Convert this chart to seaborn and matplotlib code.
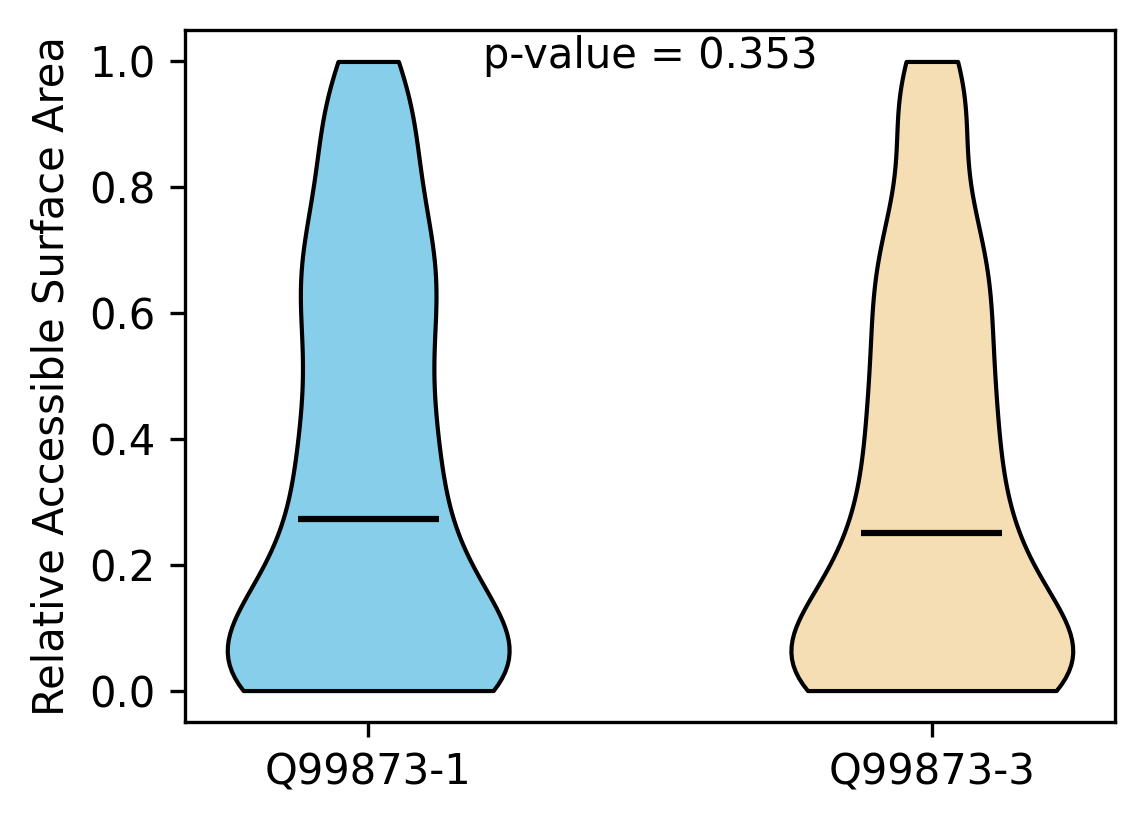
import numpy as np
import pandas as pd
import matplotlib
matplotlib.use("Agg")
import matplotlib.pyplot as plt
import seaborn as sns

categories = ["Q99873-1", "Q99873-3"]
colors = ["#87CEEB", "#F5DEB3"]
p_value_text = "p-value = 0.353"
y_label = "Relative Accessible Surface Area"
y_ticks = [0.0, 0.2, 0.4, 0.6, 0.8, 1.0]

rsa_iso1 = [
    0.0, 0.0, 0.0, 0.0, 0.0, 0.0, 0.0, 0.0, 0.0, 0.0,
    0.0, 0.0, 0.0, 0.0, 0.0, 0.0, 0.0, 0.0, 0.0, 0.0,
    0.015, 0.019, 0.023, 0.027, 0.031, 0.035,
    0.039, 0.042, 0.045, 0.048, 0.052, 0.055, 0.058, 0.061,
    0.066, 0.072, 0.078, 0.084,
    0.091, 0.097, 0.103, 0.109,
    0.116, 0.122, 0.128, 0.134,
    0.141, 0.147, 0.153, 0.159,
    0.167, 0.175, 0.183,
    0.191, 0.197, 0.203, 0.209,
    0.217, 0.225, 0.233,
    0.244, 0.256,
    0.266, 0.272, 0.278, 0.284,
    0.317, 0.325, 0.333,
    0.342, 0.350, 0.358,
    0.367, 0.375, 0.383,
    0.394, 0.406,
    0.416, 0.422, 0.428, 0.434,
    0.467, 0.475, 0.483,
    0.492, 0.500, 0.508,
    0.544, 0.556,
    0.567, 0.575, 0.583,
    0.594, 0.606,
    0.617, 0.625, 0.633,
    0.644, 0.656,
    0.666, 0.672, 0.678, 0.684,
    0.691, 0.697, 0.703, 0.709,
    0.744, 0.756,
    0.769, 0.781,
    0.794, 0.806,
    0.825,
    0.844, 0.856,
    0.875,
    0.894, 0.906,
    0.925,
    0.941, 0.947, 0.953, 0.959,
    0.975,
    1.0, 1.0,
]

rsa_iso3 = [
    0.0, 0.0, 0.0, 0.0, 0.0, 0.0, 0.0, 0.0, 0.0, 0.0,
    0.0, 0.0, 0.0, 0.0, 0.0, 0.0, 0.0, 0.0, 0.0, 0.0, 0.0,
    0.016, 0.022, 0.028, 0.034,
    0.039, 0.041, 0.044, 0.046, 0.049, 0.051, 0.054, 0.056, 0.059, 0.061,
    0.065, 0.070, 0.075, 0.080, 0.085,
    0.091, 0.097, 0.103, 0.109,
    0.116, 0.122, 0.128, 0.134,
    0.141, 0.147, 0.153, 0.159,
    0.167, 0.175, 0.183,
    0.190, 0.194, 0.198, 0.202, 0.206, 0.210,
    0.242, 0.250, 0.258,
    0.266, 0.272, 0.278, 0.284,
    0.292, 0.300, 0.308,
    0.317, 0.325, 0.333,
    0.367, 0.375, 0.383,
    0.392, 0.400, 0.408,
    0.417, 0.425, 0.433,
    0.444, 0.456,
    0.467, 0.475, 0.483,
    0.500,
    0.517, 0.525, 0.533,
    0.544, 0.556,
    0.569, 0.581,
    0.600,
    0.616, 0.622, 0.628, 0.634,
    0.644, 0.656,
    0.669, 0.681,
    0.694, 0.706,
    0.717, 0.725, 0.733,
    0.744, 0.756,
    0.794, 0.806,
    0.850,
    0.900,
    0.917, 0.925, 0.933,
    0.944, 0.956,
    0.967, 0.975, 0.983,
    1.0,
]

df = pd.DataFrame({
    "isoform": [categories[0]] * len(rsa_iso1) + [categories[1]] * len(rsa_iso3),
    "rsa": rsa_iso1 + rsa_iso3,
})

fig = plt.figure(figsize=(1144 / 300, 824 / 300), dpi=300)
ax = fig.add_axes([185 / 1144, 1 - 722 / 824, (1115 - 185) / 1144, (722 - 30) / 824])

sns.violinplot(
    data=df, x="isoform", y="rsa", hue="isoform", order=categories,
    hue_order=categories, palette=colors, saturation=1, cut=0, inner=None,
    density_norm="width", width=0.5, linewidth=1.0, linecolor="black",
    bw_method=0.32, legend=False, ax=ax,
)

for i, cat in enumerate(categories):
    med = float(np.median(df.loc[df["isoform"] == cat, "rsa"]))
    ax.hlines(med, i - 0.125, i + 0.125, color="black", linewidth=1.5, zorder=5)

ax.set_xlim(-0.325, 1.325)
ax.set_ylim(-0.05, 1.05)
ax.set_yticks(y_ticks)
ax.set_yticklabels([f"{t:.1f}" for t in y_ticks])
ax.set_xlabel("")
ax.set_ylabel(y_label, fontsize=10)
ax.tick_params(labelsize=10)
ax.text(0.5, 0.993, p_value_text, transform=ax.transAxes, ha="center", va="top", fontsize=10)

fig.savefig("out.png", dpi=300)
